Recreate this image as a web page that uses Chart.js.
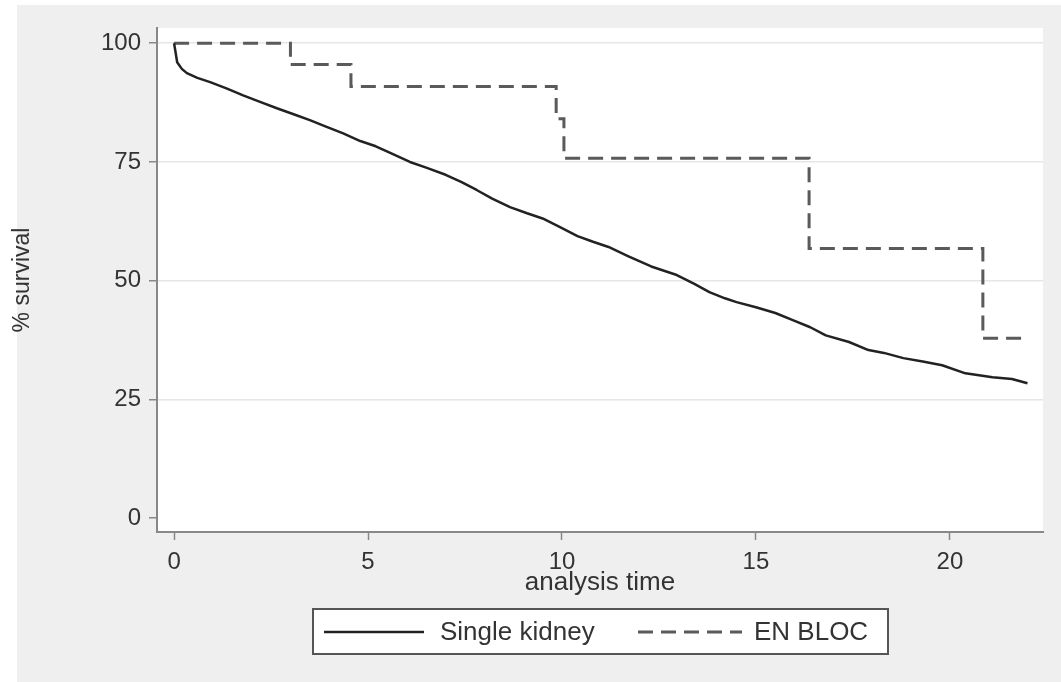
<!DOCTYPE html>
<html>
<head>
<meta charset="utf-8">
<script src="https://cdn.jsdelivr.net/npm/chart.js@4"></script>
<style>
  body { margin: 0; background: #ffffff; }
  #wrap { width: 1061px; height: 682px; position: relative; }
</style>
</head>
<body>
<div id="wrap"><canvas id="kmChart"></canvas></div>
<script>
// Kaplan-Meier survival
const singleTime = [0, 0.03, 0.08, 0.2, 0.33, 0.6, 0.93, 1.35, 1.78, 2.2, 2.65, 3.1, 3.5, 3.9, 4.36,
                    4.8, 5.2, 5.6, 6.08, 6.5, 7.0, 7.4, 7.8, 8.2, 8.66, 9.1, 9.5, 9.95, 10.4, 10.8,
                    11.2, 11.7, 12.3, 12.96, 13.4, 13.8, 14.2, 14.5, 15.0, 15.5, 15.95, 16.4, 16.8,
                    17.4, 17.9, 18.3, 18.8, 19.3, 19.8, 20.4, 21.1, 21.6, 22.0];
const singleSurv = [100, 98.5, 96, 94.6, 93.7, 92.7, 91.8, 90.5, 89.0, 87.7, 86.3, 85.0, 83.8, 82.5, 81.0,
                    79.4, 78.3, 76.8, 75.0, 73.8, 72.3, 70.8, 69.1, 67.3, 65.5, 64.2, 63.1, 61.3, 59.4, 58.2,
                    57.1, 55.2, 53.0, 51.2, 49.4, 47.6, 46.3, 45.5, 44.4, 43.2, 41.7, 40.2, 38.5,
                    37.1, 35.4, 34.8, 33.7, 33.0, 32.2, 30.5, 29.7, 29.3, 28.4];

const enblocTime = [0, 3.0, 4.56, 9.85, 10.05, 16.37, 20.85, 22.0];
const enblocSurv = [100, 95.5, 90.9, 84.1, 75.8, 56.8, 37.9, 37.9];

const seriesLabels = ['Single kidney', 'EN BLOC'];
const xTicks = [0, 5, 10, 15, 20];
const yTicks = [0, 25, 50, 75, 100];

const toPoints = (xs, ys) => xs.map((x, i) => ({ x: x, y: ys[i] }));

// gray panel behind the plot, white plot region
const panelBg = {
    id: 'panelBg',
    beforeDraw(chart) {
        const { ctx, chartArea: a } = chart;
        ctx.save();
        ctx.fillStyle = '#ffffff';
        ctx.fillRect(0, 0, chart.width, chart.height);
        ctx.fillStyle = '#efefef';
        ctx.fillRect(17, 5, chart.width - 17, chart.height - 5);
        ctx.fillStyle = '#ffffff';
        ctx.fillRect(a.left, a.top, a.right - a.left, a.bottom - a.top);
        ctx.restore();
    }
};

// Stata style boxed legend under the axis title
const boxLegend = {
    id: 'boxLegend',
    afterDraw(chart) {
        const ctx = chart.ctx;
        const ds = chart.data.datasets;
        ctx.save();
        ctx.fillStyle = '#ffffff';
        ctx.fillRect(313, 609, 575, 45);
        ctx.strokeStyle = '#555555';
        ctx.lineWidth = 2;
        ctx.strokeRect(313, 609, 575, 45);

        const items = [{ x0: 324, x1: 424, tx: 440 }, { x0: 638, x1: 742, tx: 754 }];
        ctx.font = '26px "Liberation Sans", Arial, sans-serif';
        ctx.textBaseline = 'middle';
        items.forEach((it, i) => {
            ctx.strokeStyle = ds[i].borderColor;
            ctx.lineWidth = ds[i].borderWidth;
            ctx.setLineDash(ds[i].borderDash || []);
            ctx.beginPath();
            ctx.moveTo(it.x0, 632);
            ctx.lineTo(it.x1, 632);
            ctx.stroke();
            ctx.setLineDash([]);
            ctx.fillStyle = '#333333';
            ctx.fillText(ds[i].label, it.tx, 633);
        });
        ctx.restore();
    }
};

const ctx = document.getElementById('kmChart').getContext('2d');
new Chart(ctx, {
    type: 'line',
    data: {
        datasets: [{
            label: seriesLabels[0],
            data: toPoints(singleTime, singleSurv),
            borderColor: '#222222',
            borderWidth: 2.5,
            pointRadius: 0,
            tension: 0,
            borderJoinStyle: 'round'
        }, {
            label: seriesLabels[1],
            data: toPoints(enblocTime, enblocSurv),
            borderColor: '#5a5a5a',
            borderWidth: 3,
            borderDash: [15, 8],
            pointRadius: 0,
            stepped: true
        }]
    },
    options: {
        responsive: true,
        maintainAspectRatio: false,
        animation: false,
        layout: { padding: { left: 0, top: 28, right: 18, bottom: 80 } },
        plugins: {
            legend: { display: false },
            tooltip: { enabled: false }
        },
        scales: {
            x: {
                type: 'linear',
                min: -0.44,
                max: 22.4,
                afterBuildTicks: s => { s.ticks = xTicks.map(v => ({ value: v })); },
                afterFit: s => { s.height = 70; },
                grid: { drawOnChartArea: false, tickLength: 8, tickColor: '#888888', tickWidth: 1.5 },
                border: { display: true, color: '#888888', width: 2 },
                ticks: {
                    padding: 8,
                    color: '#333333',
                    font: { family: '"Liberation Sans", Arial, sans-serif', size: 24 }
                },
                title: {
                    display: true,
                    text: 'analysis time',
                    color: '#333333',
                    padding: { top: 0, bottom: 4 },
                    font: { family: '"Liberation Sans", Arial, sans-serif', size: 26 }
                }
            },
            y: {
                type: 'linear',
                min: -2.9,
                max: 103.2,
                afterBuildTicks: s => { s.ticks = yTicks.map(v => ({ value: v })); },
                afterFit: s => { s.width = 157; },
                grid: {
                    color: c => (c.tick && c.tick.value === 0) ? 'rgba(0,0,0,0)' : '#e6e6e6',
                    lineWidth: 1.5,
                    tickLength: 8,
                    tickColor: '#888888',
                    tickWidth: 1.5
                },
                border: { display: true, color: '#888888', width: 2 },
                ticks: {
                    padding: 8,
                    color: '#333333',
                    font: { family: '"Liberation Sans", Arial, sans-serif', size: 24 }
                },
                title: {
                    display: true,
                    text: '% survival',
                    color: '#333333',
                    padding: { top: 9, bottom: 0 },
                    font: { family: '"Liberation Sans", Arial, sans-serif', size: 23 }
                }
            }
        }
    },
    plugins: [panelBg, boxLegend]
});
</script>
</body>
</html>
